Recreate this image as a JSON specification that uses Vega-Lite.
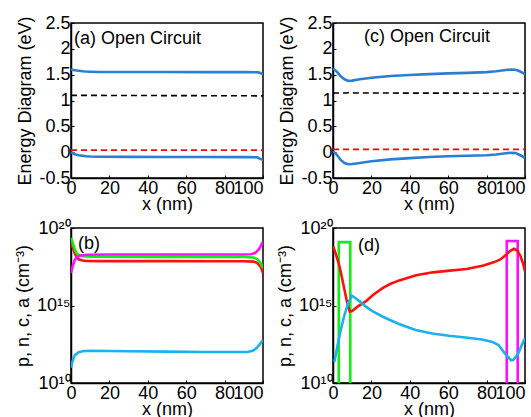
{
  "$schema": "https://vega.github.io/schema/vega-lite/v6.json",
  "padding": {"left": 13, "top": 13, "right": 0, "bottom": 0},
  "config": {
    "font": "Liberation Sans",
    "view": {"stroke": "#000", "strokeWidth": 1.5},
    "title": {"fontSize": 18, "fontWeight": "normal", "font": "Liberation Sans", "color": "#000", "anchor": "start", "frame": "group", "baseline": "alphabetic"},
    "axis": {"grid": false, "labelFontSize": 18, "titleFontSize": 18, "titleFontWeight": "normal", "labelColor": "#000", "titleColor": "#000", "domainColor": "#000", "domainWidth": 1.5, "tickColor": "#000", "tickSize": -3, "labelPadding": 4, "labelFlush": false, "labelOverlap": false, "titlePadding": -2},
    "axisY": {"titlePadding": 4}
  },
  "datasets": {
    "ea": [
      {"x": 0, "E": 1.60, "s": "Ec"}, {"x": 2, "E": 1.585, "s": "Ec"}, {"x": 4, "E": 1.575, "s": "Ec"}, {"x": 6, "E": 1.565, "s": "Ec"}, {"x": 8, "E": 1.56, "s": "Ec"}, {"x": 10, "E": 1.557, "s": "Ec"}, {"x": 15, "E": 1.553, "s": "Ec"}, {"x": 30, "E": 1.552, "s": "Ec"}, {"x": 50, "E": 1.551, "s": "Ec"}, {"x": 70, "E": 1.55, "s": "Ec"}, {"x": 90, "E": 1.549, "s": "Ec"}, {"x": 97, "E": 1.547, "s": "Ec"}, {"x": 98, "E": 1.54, "s": "Ec"}, {"x": 100, "E": 1.51, "s": "Ec"},
      {"x": 0, "E": 0.0, "s": "Ev"}, {"x": 2, "E": -0.04, "s": "Ev"}, {"x": 4, "E": -0.06, "s": "Ev"}, {"x": 6, "E": -0.07, "s": "Ev"}, {"x": 8, "E": -0.08, "s": "Ev"}, {"x": 10, "E": -0.085, "s": "Ev"}, {"x": 15, "E": -0.09, "s": "Ev"}, {"x": 30, "E": -0.092, "s": "Ev"}, {"x": 50, "E": -0.093, "s": "Ev"}, {"x": 70, "E": -0.094, "s": "Ev"}, {"x": 90, "E": -0.096, "s": "Ev"}, {"x": 97, "E": -0.1, "s": "Ev"}, {"x": 98, "E": -0.12, "s": "Ev"}, {"x": 100, "E": -0.15, "s": "Ev"}
    ],
    "fa": [
      {"x": 0, "E": 1.10, "s": "Fn"}, {"x": 100, "E": 1.09, "s": "Fn"},
      {"x": 0, "E": 0.04, "s": "Fp"}, {"x": 100, "E": 0.04, "s": "Fp"}
    ],
    "ec": [
      {"x": 0, "E": 1.62, "s": "Ec"}, {"x": 2, "E": 1.56, "s": "Ec"}, {"x": 4, "E": 1.47, "s": "Ec"}, {"x": 6, "E": 1.41, "s": "Ec"}, {"x": 8, "E": 1.38, "s": "Ec"}, {"x": 10, "E": 1.385, "s": "Ec"}, {"x": 14, "E": 1.41, "s": "Ec"}, {"x": 20, "E": 1.44, "s": "Ec"}, {"x": 30, "E": 1.475, "s": "Ec"}, {"x": 40, "E": 1.495, "s": "Ec"}, {"x": 50, "E": 1.51, "s": "Ec"}, {"x": 60, "E": 1.525, "s": "Ec"}, {"x": 70, "E": 1.535, "s": "Ec"}, {"x": 80, "E": 1.55, "s": "Ec"}, {"x": 85, "E": 1.565, "s": "Ec"}, {"x": 90, "E": 1.59, "s": "Ec"}, {"x": 93, "E": 1.60, "s": "Ec"}, {"x": 95, "E": 1.595, "s": "Ec"}, {"x": 97, "E": 1.57, "s": "Ec"}, {"x": 100, "E": 1.51, "s": "Ec"},
      {"x": 0, "E": 0.02, "s": "Ev"}, {"x": 2, "E": -0.05, "s": "Ev"}, {"x": 4, "E": -0.15, "s": "Ev"}, {"x": 6, "E": -0.21, "s": "Ev"}, {"x": 8, "E": -0.235, "s": "Ev"}, {"x": 10, "E": -0.23, "s": "Ev"}, {"x": 14, "E": -0.21, "s": "Ev"}, {"x": 20, "E": -0.175, "s": "Ev"}, {"x": 30, "E": -0.14, "s": "Ev"}, {"x": 40, "E": -0.115, "s": "Ev"}, {"x": 50, "E": -0.095, "s": "Ev"}, {"x": 60, "E": -0.08, "s": "Ev"}, {"x": 70, "E": -0.07, "s": "Ev"}, {"x": 80, "E": -0.06, "s": "Ev"}, {"x": 85, "E": -0.045, "s": "Ev"}, {"x": 90, "E": -0.02, "s": "Ev"}, {"x": 93, "E": -0.01, "s": "Ev"}, {"x": 95, "E": -0.015, "s": "Ev"}, {"x": 97, "E": -0.05, "s": "Ev"}, {"x": 100, "E": -0.11, "s": "Ev"}
    ],
    "fc": [
      {"x": 0, "E": 1.145, "s": "Fn"}, {"x": 7, "E": 1.145, "s": "Fn"}, {"x": 9, "E": 1.16, "s": "Fn"}, {"x": 11, "E": 1.145, "s": "Fn"}, {"x": 100, "E": 1.14, "s": "Fn"},
      {"x": 0, "E": 0.055, "s": "Fp"}, {"x": 100, "E": 0.055, "s": "Fp"}
    ],
    "cb": [
      {"x": 0, "v": 1.12e19, "s": "p"}, {"x": 1, "v": 5.0e18, "s": "p"}, {"x": 2, "v": 2.24e18, "s": "p"}, {"x": 3, "v": 1.26e18, "s": "p"}, {"x": 4, "v": 9.55e17, "s": "p"}, {"x": 6, "v": 7.94e17, "s": "p"}, {"x": 8, "v": 7.41e17, "s": "p"}, {"x": 15, "v": 7.24e17, "s": "p"}, {"x": 50, "v": 7.24e17, "s": "p"}, {"x": 90, "v": 7.08e17, "s": "p"}, {"x": 95, "v": 6.76e17, "s": "p"}, {"x": 97, "v": 5.62e17, "s": "p"}, {"x": 99, "v": 2.82e17, "s": "p"}, {"x": 100, "v": 1.26e17, "s": "p"},
      {"x": 0, "v": 2.34e19, "s": "c"}, {"x": 1, "v": 1.0e19, "s": "c"}, {"x": 2, "v": 3.98e18, "s": "c"}, {"x": 3, "v": 2.24e18, "s": "c"}, {"x": 4, "v": 1.78e18, "s": "c"}, {"x": 6, "v": 1.51e18, "s": "c"}, {"x": 10, "v": 1.41e18, "s": "c"}, {"x": 50, "v": 1.38e18, "s": "c"}, {"x": 90, "v": 1.35e18, "s": "c"}, {"x": 95, "v": 1.26e18, "s": "c"}, {"x": 97, "v": 1.0e18, "s": "c"}, {"x": 99, "v": 5.01e17, "s": "c"}, {"x": 100, "v": 2.63e17, "s": "c"},
      {"x": 0, "v": 1.26e17, "s": "a"}, {"x": 1, "v": 3.98e17, "s": "a"}, {"x": 2, "v": 8.91e17, "s": "a"}, {"x": 3, "v": 1.32e18, "s": "a"}, {"x": 5, "v": 1.66e18, "s": "a"}, {"x": 8, "v": 1.86e18, "s": "a"}, {"x": 20, "v": 1.95e18, "s": "a"}, {"x": 90, "v": 1.95e18, "s": "a"}, {"x": 94, "v": 2.04e18, "s": "a"}, {"x": 96, "v": 2.51e18, "s": "a"}, {"x": 98, "v": 4.47e18, "s": "a"}, {"x": 100, "v": 1.26e19, "s": "a"},
      {"x": 0, "v": 9.77e10, "s": "n"}, {"x": 1, "v": 3.16e11, "s": "n"}, {"x": 2, "v": 6.31e11, "s": "n"}, {"x": 4, "v": 9.55e11, "s": "n"}, {"x": 6, "v": 1.12e12, "s": "n"}, {"x": 10, "v": 1.20e12, "s": "n"}, {"x": 30, "v": 1.12e12, "s": "n"}, {"x": 50, "v": 1.05e12, "s": "n"}, {"x": 70, "v": 1.0e12, "s": "n"}, {"x": 92, "v": 1.0e12, "s": "n"}, {"x": 95, "v": 1.26e12, "s": "n"}, {"x": 97, "v": 2.0e12, "s": "n"}, {"x": 99, "v": 3.98e12, "s": "n"}, {"x": 100, "v": 5.89e12, "s": "n"}
    ],
    "cd": [
      {"i": 0, "x": 3, "v": 1e10, "s": "c"}, {"i": 1, "x": 3, "v": 1.23e19, "s": "c"}, {"i": 2, "x": 9, "v": 1.23e19, "s": "c"}, {"i": 3, "x": 9, "v": 1e10, "s": "c"},
      {"i": 0, "x": 90.5, "v": 1e10, "s": "a"}, {"i": 1, "x": 90.5, "v": 1.45e19, "s": "a"}, {"i": 2, "x": 96.2, "v": 1.45e19, "s": "a"}, {"i": 3, "x": 96.2, "v": 1e10, "s": "a"},
      {"i": 0, "x": 0, "v": 6.76e18, "s": "p"}, {"i": 1, "x": 1, "v": 3.16e18, "s": "p"}, {"i": 2, "x": 2, "v": 1.26e18, "s": "p"}, {"i": 3, "x": 3, "v": 5.01e17, "s": "p"}, {"i": 4, "x": 4, "v": 1.58e17, "s": "p"}, {"i": 5, "x": 5, "v": 3.98e16, "s": "p"}, {"i": 6, "x": 6, "v": 1.0e16, "s": "p"}, {"i": 7, "x": 7, "v": 2.51e15, "s": "p"}, {"i": 8, "x": 8, "v": 7.94e14, "s": "p"}, {"i": 9, "x": 8.7, "v": 4.17e14, "s": "p"}, {"i": 10, "x": 10, "v": 4.47e14, "s": "p"}, {"i": 11, "x": 13, "v": 8.91e14, "s": "p"}, {"i": 12, "x": 17, "v": 1.82e15, "s": "p"}, {"i": 13, "x": 21, "v": 5.01e15, "s": "p"}, {"i": 14, "x": 25.8, "v": 1.32e16, "s": "p"}, {"i": 15, "x": 30, "v": 2.51e16, "s": "p"}, {"i": 16, "x": 34.5, "v": 4.17e16, "s": "p"}, {"i": 17, "x": 43.3, "v": 8.91e16, "s": "p"}, {"i": 18, "x": 52, "v": 1.38e17, "s": "p"}, {"i": 19, "x": 60.8, "v": 1.78e17, "s": "p"}, {"i": 20, "x": 69.6, "v": 2.29e17, "s": "p"}, {"i": 21, "x": 78.4, "v": 3.80e17, "s": "p"}, {"i": 22, "x": 84, "v": 6.31e17, "s": "p"}, {"i": 23, "x": 87.2, "v": 9.33e17, "s": "p"}, {"i": 24, "x": 90, "v": 1.78e18, "s": "p"}, {"i": 25, "x": 92, "v": 3.16e18, "s": "p"}, {"i": 26, "x": 94.2, "v": 4.57e18, "s": "p"}, {"i": 27, "x": 96, "v": 3.55e18, "s": "p"}, {"i": 28, "x": 97.7, "v": 1.51e18, "s": "p"}, {"i": 29, "x": 99, "v": 5.01e17, "s": "p"}, {"i": 30, "x": 100, "v": 1.58e17, "s": "p"},
      {"i": 0, "x": 0.7, "v": 2.29e11, "s": "n"}, {"i": 1, "x": 2, "v": 1.58e12, "s": "n"}, {"i": 2, "x": 4, "v": 2.51e13, "s": "n"}, {"i": 3, "x": 6, "v": 2.51e14, "s": "n"}, {"i": 4, "x": 8, "v": 1.58e15, "s": "n"}, {"i": 5, "x": 9.8, "v": 4.27e15, "s": "n"}, {"i": 6, "x": 12, "v": 2.82e15, "s": "n"}, {"i": 7, "x": 14, "v": 1.78e15, "s": "n"}, {"i": 8, "x": 17, "v": 8.71e14, "s": "n"}, {"i": 9, "x": 21, "v": 3.98e14, "s": "n"}, {"i": 10, "x": 25.7, "v": 1.95e14, "s": "n"}, {"i": 11, "x": 30, "v": 1.12e14, "s": "n"}, {"i": 12, "x": 34.4, "v": 6.46e13, "s": "n"}, {"i": 13, "x": 43, "v": 2.63e13, "s": "n"}, {"i": 14, "x": 51.7, "v": 1.58e13, "s": "n"}, {"i": 15, "x": 60.3, "v": 1.12e13, "s": "n"}, {"i": 16, "x": 69, "v": 8.71e12, "s": "n"}, {"i": 17, "x": 77.6, "v": 6.46e12, "s": "n"}, {"i": 18, "x": 83, "v": 4.47e12, "s": "n"}, {"i": 19, "x": 86.2, "v": 2.82e12, "s": "n"}, {"i": 20, "x": 89.6, "v": 7.94e11, "s": "n"}, {"i": 21, "x": 92.7, "v": 2.95e11, "s": "n"}, {"i": 22, "x": 94, "v": 3.16e11, "s": "n"}, {"i": 23, "x": 96.5, "v": 7.94e11, "s": "n"}, {"i": 24, "x": 98.5, "v": 3.16e12, "s": "n"}, {"i": 25, "x": 100, "v": 7.94e12, "s": "n"}
    ]
  },
  "columns": 2,
  "spacing": {"row": 50, "column": 70},
  "bounds": "flush",
  "resolve": {"scale": {"color": "independent", "x": "independent", "y": "independent"}},
  "concat": [
    {
      "width": 192, "height": 155,
      "title": {"text": "(a) Open Circuit", "offset": -34, "dx": 3},
      "encoding": {
        "x": {"field": "x", "type": "quantitative", "scale": {"domain": [0, 100], "nice": false}, "axis": {"title": "x (nm)", "values": [0, 20, 40, 60, 80, 100], "labelOverlap": false, "labelAlign": {"condition": {"test": "datum.value >= 100", "value": "right"}, "value": "center"}}},
        "y": {"field": "E", "type": "quantitative", "scale": {"domain": [-0.5, 2.5], "nice": false, "zero": false}, "axis": {"title": "Energy Diagram (eV)", "values": [-0.5, 0, 0.5, 1, 1.5, 2, 2.5], "labelOverlap": false, "labelExpr": "datum.value < 0 ? '-' + format(-datum.value, '') : format(datum.value, '')"}}
      },
      "layer": [
        {"data": {"name": "fa"}, "mark": {"type": "line", "strokeWidth": 1.6, "strokeDash": [6, 4], "clip": true},
         "encoding": {"color": {"field": "s", "type": "nominal", "scale": {"domain": ["Fn", "Fp"], "range": ["#000000", "#ff0000"]}, "legend": null}}},
        {"data": {"name": "ea"}, "mark": {"type": "line", "strokeWidth": 2.6, "color": "#2a7fd2", "clip": true},
         "encoding": {"detail": {"field": "s"}}}
      ]
    },
    {
      "width": 192, "height": 155,
      "title": {"text": "(c) Open Circuit", "offset": -32, "dx": 31},
      "encoding": {
        "x": {"field": "x", "type": "quantitative", "scale": {"domain": [0, 100], "nice": false}, "axis": {"title": "x (nm)", "values": [0, 20, 40, 60, 80, 100], "labelOverlap": false, "labelAlign": {"condition": {"test": "datum.value >= 100", "value": "right"}, "value": "center"}}},
        "y": {"field": "E", "type": "quantitative", "scale": {"domain": [-0.5, 2.5], "nice": false, "zero": false}, "axis": {"title": "Energy Diagram (eV)", "values": [-0.5, 0, 0.5, 1, 1.5, 2, 2.5], "labelOverlap": false, "labelExpr": "datum.value < 0 ? '-' + format(-datum.value, '') : format(datum.value, '')"}}
      },
      "layer": [
        {"data": {"name": "fc"}, "mark": {"type": "line", "strokeWidth": 1.6, "strokeDash": [6, 4], "clip": true},
         "encoding": {"color": {"field": "s", "type": "nominal", "scale": {"domain": ["Fn", "Fp"], "range": ["#000000", "#ff0000"]}, "legend": null}}},
        {"data": {"name": "ec"}, "mark": {"type": "line", "strokeWidth": 2.6, "color": "#2a7fd2", "clip": true},
         "encoding": {"detail": {"field": "s"}}}
      ]
    },
    {
      "width": 192, "height": 155,
      "title": {"text": "(b)", "offset": -34, "dx": 7},
      "encoding": {
        "x": {"field": "x", "type": "quantitative", "scale": {"domain": [0, 100], "nice": false}, "axis": {"title": "x (nm)", "values": [0, 20, 40, 60, 80, 100], "labelOverlap": false, "labelAlign": {"condition": {"test": "datum.value >= 100", "value": "right"}, "value": "center"}}},
        "y": {"field": "v", "type": "quantitative", "scale": {"type": "log", "domain": [1e10, 1e20], "nice": false}, "axis": {"title": "p, n, c, a (cm⁻³)", "values": [1e10, 1e15, 1e20], "labelOverlap": false, "labelExpr": "datum.value < 1e12 ? '10¹⁰' : datum.value < 1e17 ? '10¹⁵' : '10²⁰'"}}
      },
      "layer": [
        {"data": {"name": "cb"}, "mark": {"type": "line", "strokeWidth": 2.6, "clip": true},
         "encoding": {"color": {"field": "s", "type": "nominal", "scale": {"domain": ["p", "n", "c", "a"], "range": ["#ff1010", "#1ab2ee", "#10f010", "#ff10ff"]}, "legend": null}}}
      ]
    },
    {
      "width": 192, "height": 155,
      "title": {"text": "(d)", "offset": -36, "dx": 25},
      "encoding": {
        "x": {"field": "x", "type": "quantitative", "scale": {"domain": [0, 100], "nice": false}, "axis": {"title": "x (nm)", "values": [0, 20, 40, 60, 80, 100], "labelOverlap": false, "labelAlign": {"condition": {"test": "datum.value >= 100", "value": "right"}, "value": "center"}}},
        "y": {"field": "v", "type": "quantitative", "scale": {"type": "log", "domain": [1e10, 1e20], "nice": false}, "axis": {"title": "p, n, c, a (cm⁻³)", "values": [1e10, 1e15, 1e20], "labelOverlap": false, "labelExpr": "datum.value < 1e12 ? '10¹⁰' : datum.value < 1e17 ? '10¹⁵' : '10²⁰'"}}
      },
      "layer": [
        {"data": {"name": "cd"}, "mark": {"type": "line", "strokeWidth": 2.6, "clip": true},
         "encoding": {"order": {"field": "i", "type": "quantitative"},
           "color": {"field": "s", "type": "nominal", "scale": {"domain": ["p", "n", "c", "a"], "range": ["#ff1010", "#1ab2ee", "#10f010", "#ff10ff"]}, "legend": null}}}
      ]
    }
  ]
}
